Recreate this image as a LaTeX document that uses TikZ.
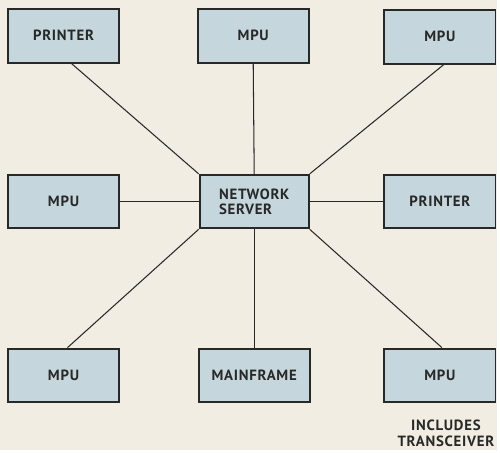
\documentclass[tikz,border=0pt]{standalone}
\usepackage{fontspec}
\newfontfamily\boxfont[LetterSpace=5]{PT Sans}
\usepackage{xcolor}
\usepackage{tikz}
\definecolor{paperbg}{RGB}{241,237,226}
\definecolor{boxblue}{RGB}{197,215,220}
\definecolor{inkgray}{RGB}{40,40,40}

\begin{document}
\begin{tikzpicture}[x=0.02cm,y=-0.02cm,font=\boxfont\bfseries\fontsize{8.5}{10}\selectfont,
  unit/.style={draw=inkgray,line width=1.1pt,fill=boxblue,minimum width=2.24cm,minimum height=1.08cm,inner sep=0pt,text=inkgray},
  link/.style={inkgray,line width=0.6pt}]
\fill[paperbg] (0,0) rectangle (500,453);
% outer ring of stations
\node[unit] (p1) at (64,36) {PRINTER};
\node[unit] (m1) at (255,36) {MPU};
\node[unit] (m2) at (443,37) {MPU};
\node[unit] (m3) at (64,203) {MPU};
\node[unit] (p2) at (443,203) {PRINTER};
\node[unit] (m4) at (64,378) {MPU};
\node[unit] (mf) at (256,378) {MAINFRAME};
\node[unit] (m5) at (443,378) {MPU};
% hub
\node[unit,minimum width=2.2cm,align=left] (srv) at (256,203) {NETWORK\\[-1.2pt]SERVER};
\node[text=inkgray,align=center,font=\boxfont\bfseries\fontsize{8.5}{9}\selectfont] (note) at (449,436) {INCLUDES\\TRANSCEIVER};
% star wiring
\draw[link] ([xshift=0.16cm]p1.south) -- (srv.north west);
\draw[link] (m1.south) -- (srv.north);
\draw[link] ([xshift=0.08cm]m2.south) -- (srv.north east);
\draw[link] (m3.east) -- (srv.west);
\draw[link] (p2.west) -- (srv.east);
\draw[link] ([xshift=0.08cm]m4.north) -- (srv.south west);
\draw[link] (mf.north) -- (srv.south);
\draw[link] ([xshift=0.04cm]m5.north) -- (srv.south east);
\end{tikzpicture}
\end{document}
